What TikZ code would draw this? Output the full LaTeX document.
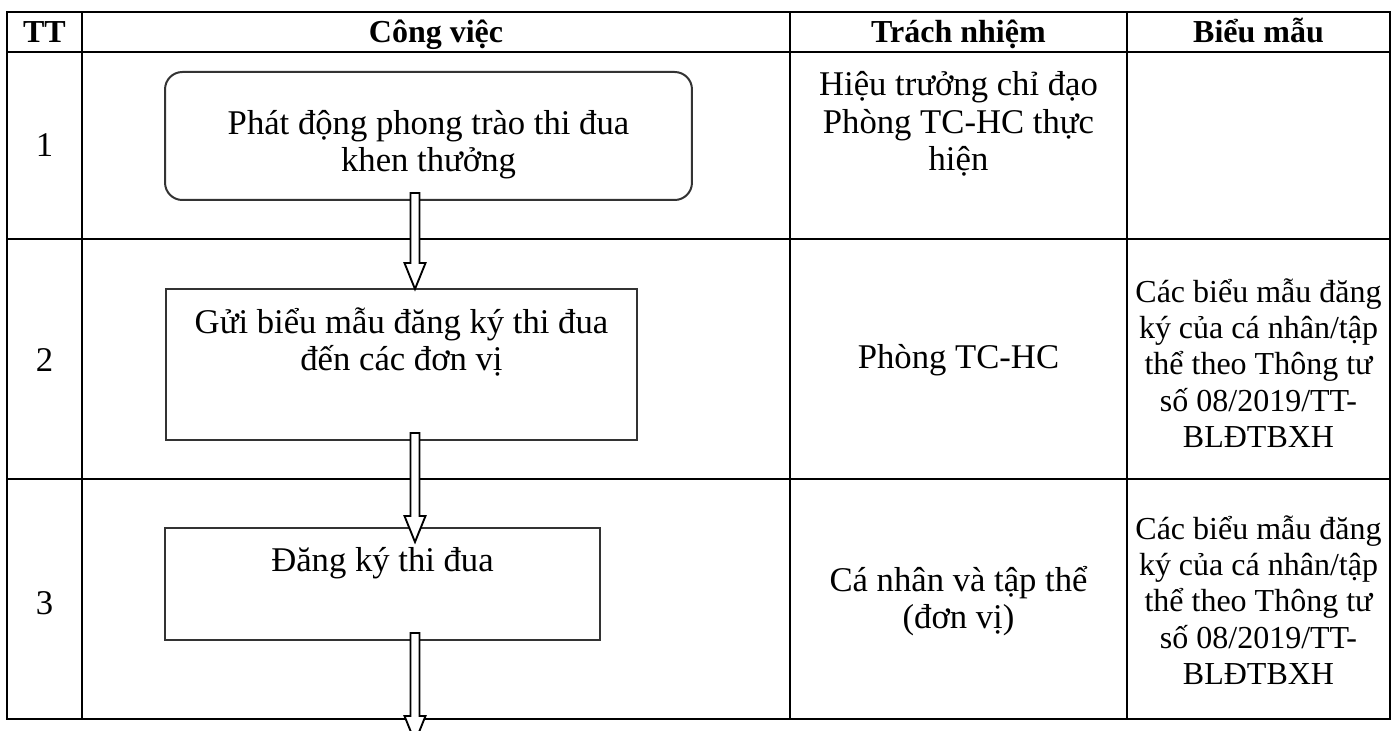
\documentclass[tikz,border=0pt]{standalone}
\usepackage{fontspec}
\setmainfont{Liberation Serif}
\usepackage{tikz}
\usetikzlibrary{shapes, arrows, positioning, calc}
\tikzstyle{tline} = [draw, line width=1.1pt]
\tikzstyle{stepbox} = [draw=black!80, line width=0.75pt, inner sep=0pt, outer sep=0pt]
\tikzstyle{roundbox} = [stepbox, rounded corners=6.5pt]
\tikzstyle{head} = [anchor=base, font=\bfseries\fontsize{12}{14}\selectfont]
\tikzstyle{txt} = [align=center, font=\fontsize{13}{14}\selectfont]
\tikzstyle{form} = [align=center, font=\fontsize{12}{13.6}\selectfont]
\tikzstyle{arrowline} = [draw, fill=white, line width=0.7pt, line join=miter]
% hollow block arrow from #1 to tip #2 (units in px, y pointing down)
\newcommand{\blockarrow}[2]{%
	\path [arrowline] ($(#1)+(-4.5,0)$) -- ($(#2)+(-4.5,-26)$) -- ($(#2)+(-10.5,-26)$) -- (#2)
		-- ($(#2)+(10.5,-26)$) -- ($(#2)+(4.5,-26)$) -- ($(#1)+(4.5,0)$) -- cycle;}

\begin{document}
\begin{tikzpicture}[x=0.375pt, y=-0.375pt]
			\useasboundingbox (0,0) rectangle (1397,731);
			
			% table
			\path [tline] (7,12) rectangle (1390,719);
			\foreach \y in {52,239,479}
				\path [tline] (7,\y) -- (1390,\y);
			\foreach \x in {82,790,1127}
				\path [tline] (\x,12) -- (\x,719);
			
			% header
			\node [head] (hTT) at (44.5,43) {TT};
			\node [head] (hCV) at (436,43) {Công việc};
			\node [head] (hTN) at (958.5,43) {Trách nhiệm};
			\node [head] (hBM) at (1258.5,43) {Biểu mẫu};
			
			% row numbers
			\node [txt] (n1) at (44.5,145) {1};
			\node [txt] (n2) at (44.5,360) {2};
			\node [txt] (n3) at (44.5,603) {3};
			
			% steps
			\node [roundbox, minimum width=197.6pt, minimum height=48pt] (b1) at (428.5,136) {};
			\node [stepbox, minimum width=176.6pt, minimum height=56.6pt] (b2) at (401.5,364.5) {};
			\node [stepbox, minimum width=163.1pt, minimum height=42pt] (b3) at (382.5,584) {};
			\node [txt] (t1) at (428.5,145) {Phát động phong trào thi đua\\khen thưởng};
			\node [txt] (t2) at (401.5,342) {Gửi biểu mẫu đăng ký thi đua\\đến các đơn vị};
			\node [txt] (t3) at (382.5,563) {Đăng ký thi đua};
			
			% responsibility
			\node [txt] (r1) at (958.5,124) {Hiệu trưởng chỉ đạo\\Phòng TC-HC thực\\hiện};
			\node [txt] (r2) at (958.5,360) {Phòng TC-HC};
			\node [txt] (r3) at (958.5,601) {Cá nhân và tập thể\\(đơn vị)};
			
			% forms
			\node [form] (f2) at (1258.5,363) {Các biểu mẫu đăng\\ký của cá nhân/tập\\thể theo Thông tư\\số 08/2019/TT-\\BLĐTBXH};
			\node [form] (f3) at (1258.5,600) {Các biểu mẫu đăng\\ký của cá nhân/tập\\thể theo Thông tư\\số 08/2019/TT-\\BLĐTBXH};
			
			% arrows
			\coordinate (axis) at (415,0);
			\coordinate (s1) at ($(b1.south -| axis)+(0,-7)$);
			\coordinate (e1) at (b2.north -| axis);
			\coordinate (s2) at ($(b2.south -| axis)+(0,-7)$);
			\coordinate (e2) at ($(b3.north -| axis)+(0,14)$);
			\coordinate (s3) at ($(b3.south -| axis)+(0,-7)$);
			\coordinate (e3) at (415,742);
			\blockarrow{s1}{e1}
			\blockarrow{s2}{e2}
			\blockarrow{s3}{e3}
		\end{tikzpicture}
\end{document}
